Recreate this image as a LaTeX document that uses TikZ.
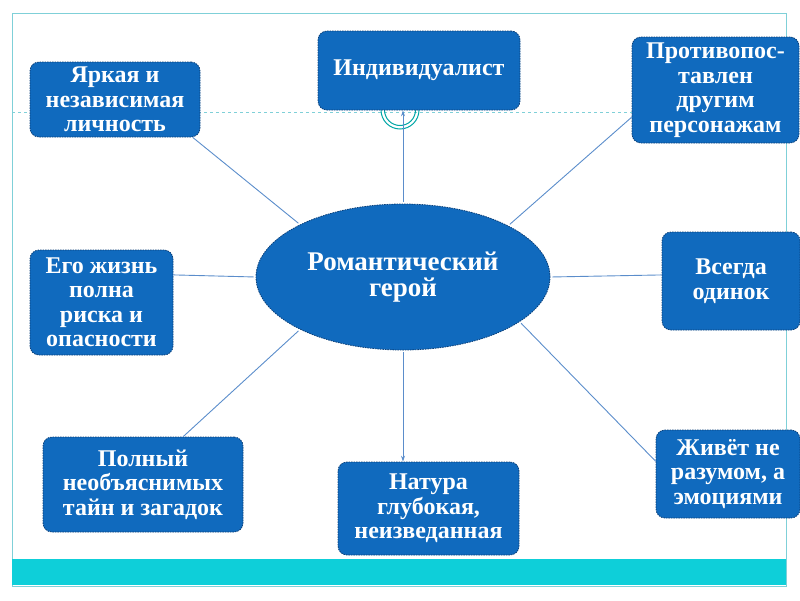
\documentclass[tikz,border=0pt]{standalone}
\usepackage{fontspec}
\setmainfont{Liberation Serif}
\usetikzlibrary{arrows.meta,shapes.geometric,calc}
\definecolor{boxfill}{HTML}{106ABE}
\definecolor{boxedge}{HTML}{0B3F78}
\definecolor{linkblue}{HTML}{5B8DCB}
\definecolor{frameteal}{HTML}{7FD0D8}
\definecolor{band}{HTML}{0ECFD9}

\begin{document}
\begin{tikzpicture}[x=1pt,y=-1pt,
  every node/.style={font=\fontsize{24}{24.5}\selectfont\bfseries, text=white, align=center},
  trait/.style={rectangle, rounded corners=9pt, fill=boxfill, draw=boxedge,
    dash pattern=on 1.5pt off 1pt, line width=0.8pt, inner sep=2pt},
  herobox/.style={ellipse, fill=boxfill, draw=boxedge, dash pattern=on 1.5pt off 1pt,
    line width=0.8pt, minimum width=294pt, minimum height=146pt,
    font=\fontsize{27}{26.5}\selectfont\bfseries},
  spoke/.style={draw=linkblue, line width=0.9pt, shorten <=2pt},
  tip/.style={-{Stealth[length=6pt,width=4pt]}}
]
\useasboundingbox (0,0) rectangle (800,600);

% slide frame, guide line and bottom band
\draw[frameteal, line width=0.9pt] (12,13) rectangle (786,586);
\fill[band] (12,559) rectangle (786,585);
\draw[frameteal, dashed, line width=0.8pt] (12,112) -- (786,112);
\draw[teal!70!cyan, line width=1pt] (381,110) arc[start angle=180, end angle=0, radius=19];
\draw[teal!70!cyan, line width=1pt] (384.5,110) arc[start angle=180, end angle=0, radius=15.5];

% centre
\node[herobox] (hero) at (403,277) {Романтический\\герой};

% traits around it
\node[trait, minimum width=170pt, minimum height=75pt] (bright) at (115,99.5) {Яркая и\\независимая\\личность};
\node[trait, minimum width=202pt, minimum height=79pt] (indiv) at (419,70.5) {Индивидуалист};
\node[trait, minimum width=167pt, minimum height=106pt] (oppose) at (715.5,90) {Противопос-\\тавлен\\другим\\персонажам};
\node[trait, minimum width=143pt, minimum height=105pt] (risk) at (101.5,302.5) {Его жизнь\\полна\\риска и\\опасности};
\node[trait, minimum width=138pt, minimum height=98pt] (alone) at (731,281) {Всегда\\одинок};
\node[trait, minimum width=200pt, minimum height=95pt] (myst) at (143,484.5) {Полный\\необъяснимых\\тайн и загадок};
\node[trait, minimum width=181pt, minimum height=93pt] (deep) at (428.5,508.5) {Натура\\глубокая,\\неизведанная};
\node[trait, minimum width=144pt, minimum height=88pt] (feel) at (728,474) {Живёт не\\разумом, а\\эмоциями};

% spokes
\draw[spoke] (hero.153) -- (bright.-26);
\draw[spoke, tip] (hero.north) -- (indiv.south -| hero.north);
\draw[spoke] (hero.26) -- (oppose.198);
\draw[spoke] (hero.0) -- (alone.175);
\draw[spoke] (hero.180) -- (risk.21);
\draw[spoke] (hero.207) -- (myst.50);
\draw[spoke, tip] (hero.south) -- (hero.south |- deep.north);
\draw[spoke] (hero.-21) -- (feel.170);

\end{tikzpicture}
\end{document}
